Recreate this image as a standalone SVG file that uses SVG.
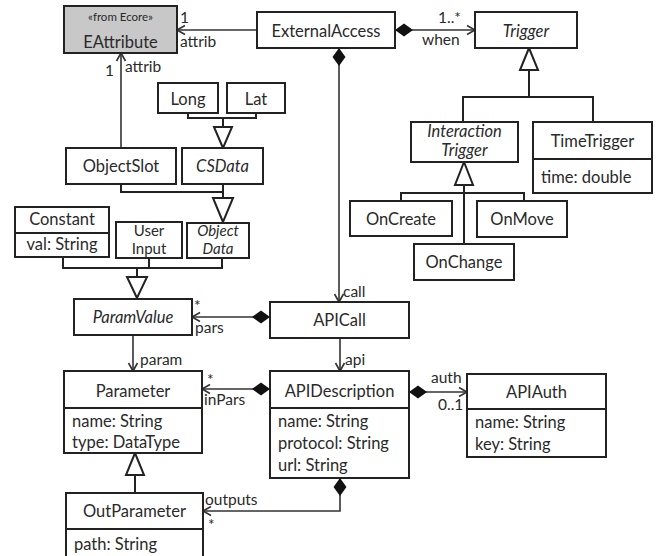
<svg xmlns="http://www.w3.org/2000/svg" width="660" height="556" viewBox="0 0 660 556">
<style>
.box{fill:#fff;stroke:#222;stroke-width:2}
.gray{fill:#c8c8c8}
.div{stroke:#222;stroke-width:2;fill:none}
.ln{fill:none;stroke:#333;stroke-width:1.6}
.tri{fill:#fff;stroke:#222;stroke-width:2;stroke-linejoin:miter}
text{font-family:Lato,"Open Sans","Liberation Sans",sans-serif;font-size:16.5px;fill:#2a2a2a}
.c{text-anchor:middle}
.i{font-style:italic}
.sm{font-size:11.5px}
.lb{font-size:15.5px}
.two{font-size:15px}
</style>
<defs>
<marker id="arr" markerUnits="userSpaceOnUse" markerWidth="12" markerHeight="12" viewBox="-10 -6 12 12" refX="0" refY="0" orient="auto">
<path d="M-8,-4.5 L0,0 L-8,4.5" fill="none" stroke="#333" stroke-width="1.6"/>
</marker>
<marker id="dia" markerUnits="userSpaceOnUse" markerWidth="20" markerHeight="14" viewBox="0 -7 20 14" refX="0" refY="0" orient="auto">
<path d="M0,0 L9,-6.5 L18,0 L9,6.5 Z" fill="#111"/>
</marker>
</defs>

<g id="connectors">
<path id="e-ext-eattr" class="ln" d="M257,30 L177,30" marker-end="url(#arr)"/>
<path id="e-slot-eattr" class="ln" d="M121,148 L121,53" marker-end="url(#arr)"/>
<path id="e-ext-trigger" class="ln" d="M395,30 L475,30" marker-start="url(#dia)" marker-end="url(#arr)"/>
<path id="e-ext-apicall" class="ln" d="M339,48 L339,302" marker-start="url(#dia)" marker-end="url(#arr)"/>
<path id="e-apicall-pv" class="ln" d="M270,317 L192,317" marker-start="url(#dia)" marker-end="url(#arr)"/>
<path id="e-pv-param" class="ln" d="M133,335 L133,371" marker-end="url(#arr)"/>
<path id="e-apicall-desc" class="ln" d="M340,338 L340,371" marker-end="url(#arr)"/>
<path id="e-desc-param" class="ln" d="M270,389 L202,389" marker-start="url(#dia)" marker-end="url(#arr)"/>
<path id="e-desc-auth" class="ln" d="M409,392 L467,392" marker-start="url(#dia)" marker-end="url(#arr)"/>
<path id="e-desc-out" class="ln" d="M340,478 L340,511 L203,511" marker-start="url(#dia)" marker-end="url(#arr)"/>

<g id="gen-trigger">
<path class="div" d="M529,70 L529,97 M463,122 L463,97 L593,97 L593,122"/>
<polygon class="tri" points="529,48 520,70 538,70"/>
</g>
<g id="gen-interaction">
<path class="div" d="M464,185 L464,244 M401,201 L401,193 L524,193 L524,201"/>
<polygon class="tri" points="464,162 455,185 473,185"/>
</g>
<g id="gen-csdata">
<path class="div" d="M188,113 L188,118 L256,118 L256,113 M223,118 L223,127"/>
<polygon class="tri" points="223,148 214,127 232,127"/>
</g>
<g id="gen-objectdata">
<path class="div" d="M121,184 L121,192 L223,192 M223,184 L223,198"/>
<polygon class="tri" points="223,222 213,198 233,198"/>
</g>
<g id="gen-paramvalue">
<path class="div" d="M63,257 L63,268 L222,268 L222,258 M149,258 L149,268 M137,268 L137,277"/>
<polygon class="tri" points="137,298 127,277 147,277"/>
</g>
<g id="gen-param">
<path class="div" d="M135,475 L135,493"/>
<polygon class="tri" points="135,453 126,475 144,475"/>
</g>

<text class="lb" x="180" y="23">1</text>
<text class="lb" x="180" y="47">attrib</text>
<text class="lb" x="105" y="76">1</text>
<text class="lb" x="125" y="72">attrib</text>
<text class="lb" x="438" y="23">1..*</text>
<text class="lb" x="422" y="45">when</text>
<text class="lb" x="343" y="297">call</text>
<text class="lb" x="194" y="311">*</text>
<text class="lb" x="195" y="333">pars</text>
<text class="lb" x="140" y="365">param</text>
<text class="lb" x="345" y="365">api</text>
<text class="lb" x="207" y="385">*</text>
<text class="lb" x="204" y="405">inPars</text>
<text class="lb" x="431" y="383">auth</text>
<text class="lb" x="438" y="410">0..1</text>
<text class="lb" x="205" y="505">outputs</text>
<text class="lb" x="208" y="530">*</text>
</g>

<g id="EAttribute">
<rect class="box gray" x="64" y="6" width="113" height="47"/>
<text class="c sm" x="120.5" y="21">«from Ecore»</text>
<text class="c" x="120.5" y="48">EAttribute</text>
</g>
<g id="ExternalAccess">
<rect class="box" x="257" y="12" width="138" height="36"/>
<text class="c" x="326" y="37">ExternalAccess</text>
</g>
<g id="Trigger">
<rect class="box" x="475" y="12" width="102" height="36"/>
<text class="c i" x="526" y="37">Trigger</text>
</g>
<g id="Long">
<rect class="box" x="158" y="83" width="60" height="30"/>
<text class="c" x="188" y="105">Long</text>
</g>
<g id="Lat">
<rect class="box" x="227" y="83" width="58" height="30"/>
<text class="c" x="256" y="105">Lat</text>
</g>
<g id="ObjectSlot">
<rect class="box" x="66" y="148" width="110" height="36"/>
<text class="c" x="121" y="172">ObjectSlot</text>
</g>
<g id="CSData">
<rect class="box" x="182" y="148" width="81" height="36"/>
<text class="c i" x="222.5" y="172">CSData</text>
</g>
<g id="Constant">
<rect class="box" x="15" y="207" width="94" height="50"/>
<path class="div" d="M15,233 L109,233"/>
<text class="c" x="62" y="225">Constant</text>
<text class="c" x="62" y="250">val: String</text>
</g>
<g id="UserInput">
<rect class="box" x="116" y="222" width="66" height="36"/>
<text class="c two" x="149" y="236">User</text>
<text class="c two" x="149" y="254">Input</text>
</g>
<g id="ObjectData">
<rect class="box" x="187" y="223" width="62" height="35"/>
<text class="c i two" x="218" y="236">Object</text>
<text class="c i two" x="218" y="254">Data</text>
</g>
<g id="InteractionTrigger">
<rect class="box" x="411" y="122" width="107" height="40"/>
<text class="c i" x="464.5" y="137">Interaction</text>
<text class="c i" x="464.5" y="156">Trigger</text>
</g>
<g id="TimeTrigger">
<rect class="box" x="533" y="122" width="119" height="71"/>
<path class="div" d="M533,159 L652,159"/>
<text class="c" x="592.5" y="147">TimeTrigger</text>
<text x="541" y="183">time: double</text>
</g>
<g id="OnCreate">
<rect class="box" x="350" y="201" width="102" height="35"/>
<text class="c" x="401" y="225">OnCreate</text>
</g>
<g id="OnMove">
<rect class="box" x="477" y="201" width="90" height="36"/>
<text class="c" x="522" y="225">OnMove</text>
</g>
<g id="OnChange">
<rect class="box" x="414" y="244" width="100" height="36"/>
<text class="c" x="464" y="268">OnChange</text>
</g>
<g id="ParamValue">
<rect class="box" x="74" y="299" width="118" height="36"/>
<text class="c i" x="133" y="323">ParamValue</text>
</g>
<g id="APICall">
<rect class="box" x="270" y="302" width="139" height="36"/>
<text class="c" x="339.5" y="326">APICall</text>
</g>
<g id="Parameter">
<rect class="box" x="64" y="371" width="138" height="82"/>
<path class="div" d="M64,408 L202,408"/>
<text class="c" x="133" y="397">Parameter</text>
<text x="72" y="427">name: String</text>
<text x="72" y="448">type: DataType</text>
</g>
<g id="APIDescription">
<rect class="box" x="270" y="371" width="139" height="107"/>
<path class="div" d="M270,408 L409,408"/>
<text class="c" x="339.5" y="397">APIDescription</text>
<text x="278" y="427">name: String</text>
<text x="278" y="449">protocol: String</text>
<text x="278" y="471">url: String</text>
</g>
<g id="APIAuth">
<rect class="box" x="467" y="374" width="139" height="83"/>
<path class="div" d="M467,409 L606,409"/>
<text class="c" x="536.5" y="398">APIAuth</text>
<text x="475" y="428">name: String</text>
<text x="475" y="450">key: String</text>
</g>
<g id="OutParameter">
<rect class="box" x="66" y="493" width="137" height="66"/>
<path class="div" d="M66,529 L203,529"/>
<text class="c" x="134.5" y="517">OutParameter</text>
<text x="74" y="550">path: String</text>
</g>
</svg>
